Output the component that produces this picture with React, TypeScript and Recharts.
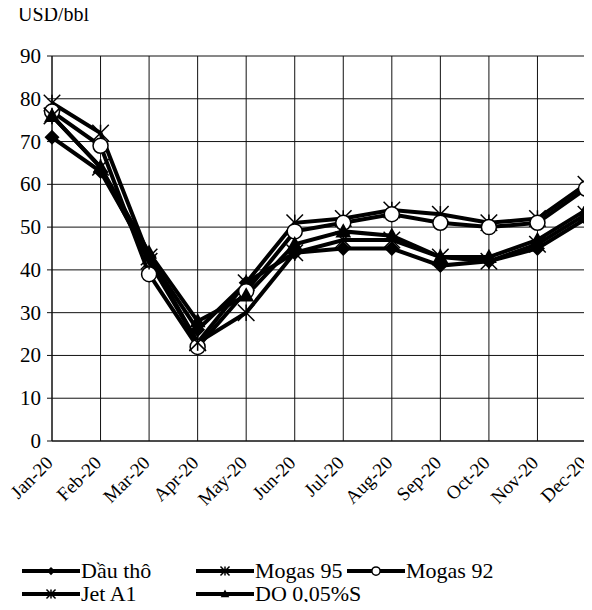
import { LineChart, Line, XAxis, YAxis, CartesianGrid } from 'recharts';

const months = ['Jan-20', 'Feb-20', 'Mar-20', 'Apr-20', 'May-20', 'Jun-20', 'Jul-20', 'Aug-20', 'Sep-20', 'Oct-20', 'Nov-20', 'Dec-20'];
const dauTho = [71, 63, 43, 26, 37, 44, 45, 45, 41, 42, 45, 52];
const mogas95 = [79, 72, 43, 23, 37, 51, 52, 54, 53, 51, 52, 60];
const mogas92 = [77, 69, 39, 22, 35, 49, 51, 53, 51, 50, 51, 59];
const jetA1 = [76, 64, 42, 23, 30, 44, 47, 47, 43, 42, 46, 53];
const do005 = [76, 64, 44, 28, 34, 46, 49, 48, 43, 43, 47, 54];
const yTicks = [0, 10, 20, 30, 40, 50, 60, 70, 80, 90];

const series = [
  { key: 'dauTho', name: 'Dầu thô', marker: 'diamond', values: dauTho },
  { key: 'mogas95', name: 'Mogas 95', marker: 'star', values: mogas95 },
  { key: 'mogas92', name: 'Mogas 92', marker: 'circle', values: mogas92 },
  { key: 'jetA1', name: 'Jet A1', marker: 'star', values: jetA1 },
  { key: 'do005', name: 'DO 0,05%S', marker: 'triangle', values: do005 },
];

const data = months.map((m, i) => {
  const row: any = { month: m };
  series.forEach(s => { row[s.key] = s.values[i]; });
  return row;
});

const FONT = "'Liberation Serif'";

const Marker = ({ type, cx, cy, size = 1 }: { type: string; cx: number; cy: number; size?: number }) => {
  const r = 7.5 * size;
  if (type === 'diamond') {
    return <polygon points={`${cx},${cy - r} ${cx + r},${cy} ${cx},${cy + r} ${cx - r},${cy}`} fill="#000" />;
  }
  if (type === 'circle') {
    return <circle cx={cx} cy={cy} r={r} fill="#fff" stroke="#000" strokeWidth={1.5} />;
  }
  if (type === 'triangle') {
    return <polygon points={`${cx},${cy - r * 1.1} ${cx + r * 1.05},${cy + r * 0.8} ${cx - r * 1.05},${cy + r * 0.8}`} fill="#000" />;
  }
  // asterisk
  const a = r * 1.1;
  return (
    <g stroke="#000" strokeWidth={1.5}>
      <line x1={cx - a} y1={cy - a} x2={cx + a} y2={cy + a} />
      <line x1={cx - a} y1={cy + a} x2={cx + a} y2={cy - a} />
      <line x1={cx} y1={cy - a} x2={cx} y2={cy + a} />
    </g>
  );
};

const XTick = ({ x, y, payload }: any) => (
  <text
    x={x + 2}
    y={y + 15}
    transform={`rotate(-45, ${x + 2}, ${y + 15})`}
    textAnchor="end"
    style={{ fontFamily: FONT, fontSize: 19 }}
    fill="#000"
  >
    {payload.value}
  </text>
);

const YTick = ({ x, y, payload }: any) => (
  <text x={x - 4} y={y + 7} textAnchor="end" style={{ fontFamily: FONT, fontSize: 21 }} fill="#000">
    {payload.value}
  </text>
);

const LegendItem = ({ s }: any) => (
  <div style={{ display: 'flex', alignItems: 'center', height: 23 }}>
    <svg width={58} height={16}>
      <line x1={0} y1={8} x2={58} y2={8} stroke="#000" strokeWidth={4} />
      <Marker type={s.marker} cx={29} cy={8} size={0.55} />
    </svg>
    <span style={{ fontFamily: FONT, fontSize: 22, lineHeight: '23px', marginLeft: 1 }}>{s.name}</span>
  </div>
);

const App = () => {
  return (
    <div style={{ position: 'relative', width: 592, height: 610, margin: -8, background: '#fff', fontFamily: FONT, overflow: 'hidden' }}>
      <div style={{ position: 'absolute', left: 18, top: 3, fontFamily: FONT, fontSize: 20 }}>USD/bbl</div>
      <LineChart width={592} height={610} data={data} margin={{ top: 56, right: 6, left: 8, bottom: 99 }}>
        <CartesianGrid stroke="#111" strokeWidth={1} vertical horizontal />
        <XAxis
          dataKey="month"
          height={70}
          interval={0}
          tick={<XTick />}
          tickLine={false}
          axisLine={{ stroke: '#111' }}
        />
        <YAxis
          domain={[0, 90]}
          ticks={yTicks}
          width={44}
          tick={<YTick />}
          tickLine={{ stroke: '#111' }}
          tickSize={5}
          axisLine={{ stroke: '#111' }}
        />
        <YAxis yAxisId="r" orientation="right" domain={[0, 90]} ticks={yTicks} width={0} tick={false} tickLine={false} axisLine={{ stroke: '#111' }} />
        {series.map(s => (
          <Line
            key={s.key}
            dataKey={s.key}
            name={s.name}
            stroke="#000"
            strokeWidth={4}
            isAnimationActive={false}
            dot={(p: any) => <Marker key={`${s.key}-${p.index}`} type={s.marker} cx={p.cx} cy={p.cy} />}
            activeDot={false}
          />
        ))}
      </LineChart>
      <div style={{ position: 'absolute', left: 22, top: 559, width: 570 }}>
        <div style={{ display: 'flex' }}>
          <div style={{ width: 174 }}><LegendItem s={series[0]} /></div>
          <div style={{ width: 151 }}><LegendItem s={series[1]} /></div>
          <div><LegendItem s={series[2]} /></div>
        </div>
        <div style={{ display: 'flex' }}>
          <div style={{ width: 174 }}><LegendItem s={series[3]} /></div>
          <div><LegendItem s={series[4]} /></div>
        </div>
      </div>
    </div>
  );
};

export default App;
